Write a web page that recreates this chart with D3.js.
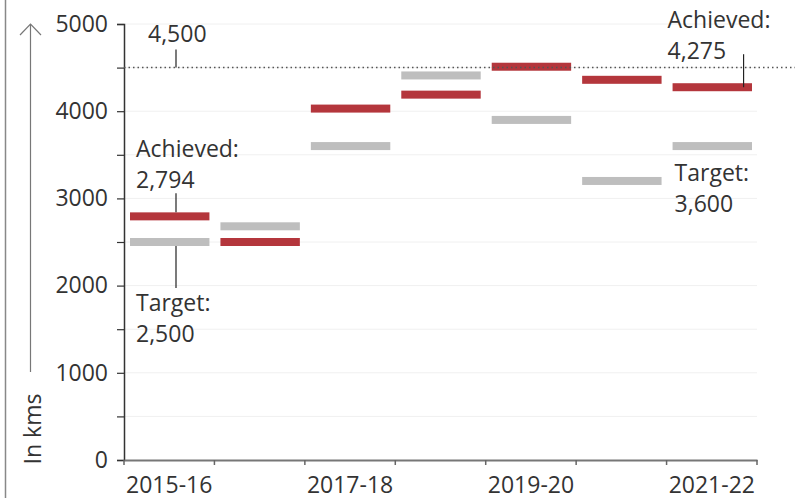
<!DOCTYPE html>
<html>
<head>
<meta charset="utf-8">
<script src="https://cdn.jsdelivr.net/npm/d3@7"></script>
<style>
  body { margin: 0; background: #fff; }
  svg { display: block; font-family: "Open Sans", sans-serif; }
  .tick text { fill: #333; }
</style>
</head>
<body>
<script>
// ---- data ----
var years = ["2015-16", "2016-17", "2017-18", "2018-19", "2019-20", "2020-21", "2021-22"];
var yearLabels = ["2015-16", "", "2017-18", "", "2019-20", "", "2021-22"];
var achieved = [2794, 2500, 4030, 4190, 4510, 4360, 4275];
var target = [2500, 2680, 3600, 4410, 3900, 3200, 3600];
var refValue = 4500;
var yTicks = [0, 1000, 2000, 3000, 4000, 5000];

// ---- layout ----
var W = 795, H = 501;
var plot = {left: 124, right: 757, top: 24, bottom: 460};
var red = "#b4363c", grey = "#bebebe";

var svg = d3.select("body").append("svg")
  .attr("width", W)
  .attr("height", H);

var x = d3.scaleBand()
  .domain(years)
  .range([plot.left, plot.right]);

var y = d3.scaleLinear()
  .domain([0, 5000])
  .range([plot.bottom, plot.top]);

// frame line on the left
svg.append("line")
  .attr("x1", 5.5).attr("x2", 5.5)
  .attr("y1", 0).attr("y2", 498)
  .attr("stroke", "#888").attr("stroke-width", 1.5);

// grid
svg.append("g").selectAll("line")
  .data(d3.range(500, 5001, 500))
  .enter().append("line")
  .attr("x1", plot.left).attr("x2", plot.right)
  .attr("y1", function(d) { return y(d); })
  .attr("y2", function(d) { return y(d); })
  .attr("stroke", "#f0f0f0").attr("stroke-width", 1);

// y axis
var yAxis = svg.append("g")
  .attr("transform", "translate(" + plot.left + ",0)")
  .call(d3.axisLeft(y).tickValues(d3.range(0, 5001, 500)).tickSize(7).tickPadding(9)
    .tickFormat(function(d) { return yTicks.indexOf(d) >= 0 ? d : ""; }));
yAxis.select(".domain").attr("stroke", "#333").attr("stroke-width", 1.5);
yAxis.selectAll(".tick line").attr("stroke", "#333").attr("stroke-width", 1.2);
yAxis.selectAll(".tick text").attr("font-size", 23).attr("font-family", "Open Sans");

// x axis
var xAxis = svg.append("g")
  .attr("transform", "translate(0," + plot.bottom + ")")
  .call(d3.axisBottom(x).tickSize(0).tickPadding(17)
    .tickFormat(function(d, i) { return yearLabels[i]; }));
xAxis.select(".domain").attr("stroke", "#777").attr("stroke-width", 2);
xAxis.selectAll(".tick text").attr("font-size", 23).attr("font-family", "Open Sans");
xAxis.selectAll(".boundary")
  .data(years.concat(["end"]))
  .enter().append("line")
  .attr("x1", function(d, i) { return i < years.length ? x(d) : plot.right; })
  .attr("x2", function(d, i) { return i < years.length ? x(d) : plot.right; })
  .attr("y1", 0).attr("y2", 5)
  .attr("stroke", "#666").attr("stroke-width", 1.5);

// y axis title with arrow
svg.append("line")
  .attr("x1", 30.5).attr("x2", 30.5)
  .attr("y1", y(5000)).attr("y2", 372)
  .attr("stroke", "#777").attr("stroke-width", 1.2);
svg.append("path")
  .attr("d", "M20,35 L30.5,24 L41,35")
  .attr("fill", "none").attr("stroke", "#777").attr("stroke-width", 1.2);
svg.append("text")
  .attr("transform", "translate(41,429) rotate(-90)")
  .attr("text-anchor", "middle")
  .attr("font-size", 23).attr("fill", "#333")
  .text("In kms");

// bars
var barH = 8, barIn = 6, barOut = 5;
svg.append("g").selectAll("rect")
  .data(target)
  .enter().append("rect")
  .attr("x", function(d, i) { return x(years[i]) + barIn; })
  .attr("width", x.bandwidth() - barIn - barOut)
  .attr("y", function(d) { return y(d) - barH / 2; })
  .attr("height", barH)
  .attr("fill", grey);

svg.append("g").selectAll("rect")
  .data(achieved)
  .enter().append("rect")
  .attr("x", function(d, i) { return x(years[i]) + barIn; })
  .attr("width", x.bandwidth() - barIn - barOut)
  .attr("y", function(d) { return y(d) - barH / 2; })
  .attr("height", barH)
  .attr("fill", red);

// reference line
svg.append("line")
  .attr("x1", plot.left).attr("x2", W)
  .attr("y1", y(refValue)).attr("y2", y(refValue))
  .attr("stroke", "#555").attr("stroke-width", 1.5)
  .attr("stroke-dasharray", "1.5,3");

// annotations
var notes = [
  {lines: ["4,500"], year: 0, value: refValue, tx: 24, ty: -26, lx: 52, l1: -18, l2: 0},
  {lines: ["Achieved:", "2,794"], year: 0, value: achieved[0], tx: 12, ty: -59, lx: 52, l1: -23, l2: -4},
  {lines: ["Target:", "2,500"], year: 0, value: target[0], tx: 12, ty: 69, lx: 52, l1: 4, l2: 46},
  {lines: ["Achieved:", "4,275"], year: 6, value: achieved[6], tx: 1, ty: -59, lx: 77, l1: -33, l2: 0},
  {lines: ["Target:", "3,600"], year: 6, value: target[6], tx: 8, ty: 35, lx: null}
];

notes.forEach(function(n) {
  var bx = x(years[n.year]), by = y(n.value);
  var t = svg.append("text")
    .attr("font-size", 23).attr("fill", "#333");
  n.lines.forEach(function(s, i) {
    t.append("tspan")
      .attr("x", bx + n.tx)
      .attr("y", by + n.ty + i * 31)
      .text(s);
  });
  if (n.lx !== null) {
    svg.append("line")
      .attr("x1", bx + n.lx).attr("x2", bx + n.lx)
      .attr("y1", by + n.l1).attr("y2", by + n.l2)
      .attr("stroke", "#222").attr("stroke-width", 1.2);
  }
});
</script>
</body>
</html>
